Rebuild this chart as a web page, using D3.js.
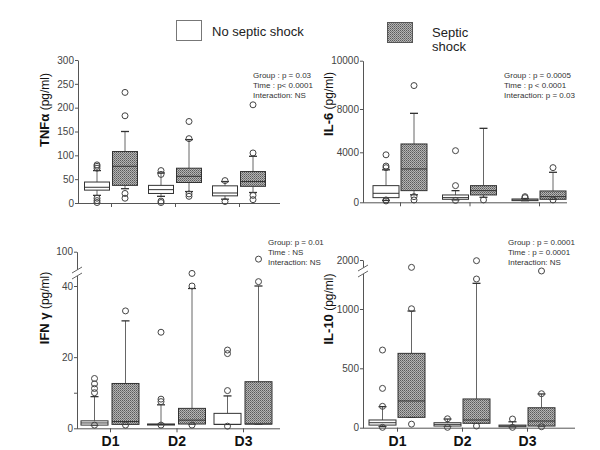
<!DOCTYPE html>
<html><head><meta charset="utf-8">
<script src="https://cdn.jsdelivr.net/npm/d3@7"></script>
<style>body{margin:0;background:#fff}svg{display:block;font-family:Arial,"Liberation Sans",sans-serif}</style>
</head><body><svg id="c" width="600" height="450"></svg>
<script>
const days = ["D1","D2","D3"];
const groups = ["No septic shock","Septic shock"];

// TNF alpha
const tnfNo = [
  {lo:16,q1:27,med:33,q3:44,hi:68,out:[80,77,73,10,5,1]},
  {lo:14,q1:20,med:28,q3:37,hi:63,out:[68,60,4,1]},
  {lo:8,q1:15,med:21,q3:36,hi:45,out:[47,3]}];
const tnfShock = [
  {lo:30,q1:37,med:77,q3:108,hi:150,out:[183,232,20,10]},
  {lo:24,q1:43,med:56,q3:73,hi:133,out:[135,171,19,14]},
  {lo:22,q1:35,med:45,q3:66,hi:98,out:[105,206,16,7]}];
// IL-6
const il6No = [
  {lo:150,q1:373,med:720,q3:1333,hi:2600,out:[3800,2900,2770,190,110]},
  {lo:190,q1:240,med:373,q3:587,hi:933,out:[1333,4150,150]},
  {lo:130,q1:133,med:187,q3:267,hi:300,out:[450,370]}];
const il6Shock = [
  {lo:600,q1:933,med:2667,q3:4770,hi:7600,out:[8970,453,187]},
  {lo:400,q1:587,med:933,q3:1333,hi:6215,out:[190]},
  {lo:240,q1:240,med:453,q3:907,hi:2400,out:[2773,190]}];
// IFN gamma
const ifnNo = [
  {lo:0.9,q1:0.9,med:1.5,q3:2.1,hi:8.9,out:[10,11.2,12.5,14,0.9]},
  {lo:1.1,q1:1.1,med:1.1,q3:1.2,hi:6.6,out:[7.5,8.2,27,0.9]},
  {lo:1.1,q1:1.1,med:1.1,q3:4.2,hi:9.1,out:[10.6,21,22,0.6]}];
const ifnShock = [
  {lo:1.1,q1:1.1,med:1.9,q3:12.6,hi:30.2,out:[33,0.9]},
  {lo:1.2,q1:1.2,med:2.3,q3:5.6,hi:39.3,out:[40,62,0.9]},
  {lo:1.2,q1:1.2,med:1.2,q3:13.1,hi:40,out:[47.6,87]}];
// IL-10
const il10No = [
  {lo:10,q1:22,med:42,q3:65,hi:177,out:[180,331,654,3]},
  {lo:14,q1:14,med:28,q3:42,hi:73,out:[75,3]},
  {lo:8,q1:8,med:15,q3:22,hi:50,out:[73,3]}];
const il10Shock = [
  {lo:87,q1:87,med:225,q3:626,hi:983,out:[1005,1850,30]},
  {lo:37,q1:37,med:65,q3:242,hi:1524,out:[1612,1986,14]},
  {lo:14,q1:14,med:56,q3:168,hi:284,out:[286,1776,8]}];

const tnfTicks = [0,50,100,150,200,250,300];
const il6Ticks = [0,4000,8000,10000];
const ifnTicks = [0,10,20,40,100];
const ifnTickLabels = ["0","","20","40","100"];
const il10Ticks = [0,500,1000,2000];

const tnfStats = ["Group : p = 0.03","Time : p< 0.0001","Interaction: NS"];
const il6Stats = ["Group : p = 0.0005","Time : p < 0.0001","Interaction:  p = 0.03"];
const ifnStats = ["Group:  p = 0.01","Time : NS","Interaction: NS"];
const il10Stats = ["Group : p = 0.0001","Time : p = 0.0001","Interaction: NS"];

const svg = d3.select("#c");
const defs = svg.append("defs");
const pat = defs.append("pattern").attr("id","dots").attr("patternUnits","userSpaceOnUse")
  .attr("width",2).attr("height",2);
pat.append("rect").attr("width",2).attr("height",2).attr("fill","#b4b4b4");
pat.append("rect").attr("width",1).attr("height",1).attr("fill","#5a5a5a");
pat.append("rect").attr("x",1).attr("y",1).attr("width",1).attr("height",1).attr("fill","#7a7a7a");

// legend
svg.append("rect").attr("x",176.5).attr("y",20.5).attr("width",25).attr("height",20)
  .attr("fill","#fff").attr("stroke","#777");
svg.append("text").attr("x",212).attr("y",36).attr("font-size",13).attr("fill","#222").text(groups[0]);
svg.append("rect").attr("x",387.5).attr("y",22.5).attr("width",25).attr("height",20)
  .attr("fill","url(#dots)").attr("stroke","#555");
svg.append("text").attr("x",432).attr("y",37).attr("font-size",13).attr("fill","#222").text("Septic");
svg.append("text").attr("x",432).attr("y",51).attr("font-size",13).attr("fill","#222").text("shock");

const panels = [
  {no:tnfNo, sh:tnfShock, ticks:tnfTicks, labels:null, dom:[0,300], rng:[203,60],
   x0:78, x1:280, c:[111,239], bw:25, off:14, name:"TNF\u03b1", lx:43, ly:110, stats:tnfStats, sx:253, sy:78, xlab:false},
  {no:il6No, sh:il6Shock, ticks:il6Ticks, labels:null, dom:[0,4000,8000,10000], rng:[202.3,152.3,109,60.7],
   x0:363, x1:567, c:[400,539], bw:26, off:14, name:"IL-6", lx:327, ly:104, stats:il6Stats, sx:504, sy:78, xlab:false},
  {no:ifnNo, sh:ifnShock, ticks:ifnTicks, labels:ifnTickLabels, dom:[0,40,100], rng:[428.3,286,251.7],
   x0:77, x1:280, c:[110,243], bw:27, off:15.5, name:"IFN \u03b3", lx:43, ly:308, stats:ifnStats, sx:268, sy:245, xlab:true, brk:273},
  {no:il10No, sh:il10Shock, ticks:il10Ticks, labels:null, dom:[0,500,1000,2000], rng:[427.7,368.3,309,260],
   x0:363, x1:575, c:[397,527], bw:27, off:14.5, name:"IL-10", lx:327, ly:309, stats:il10Stats, sx:508, sy:245, xlab:true, brk:271}
];

panels.forEach(p => {
  const g = svg.append("g");
  const y = d3.scaleLinear().domain(p.dom).range(p.rng);
  const x = d3.scalePoint().domain(days).range(p.c);
  const y0 = y(0);
  // y axis
  const ya = d3.axisLeft(y).tickValues(p.ticks).tickSize(3).tickPadding(1).tickSizeOuter(0);
  if (p.labels) ya.tickFormat((d,i)=>p.labels[i]); else ya.tickFormat(d3.format("d"));
  const yg = g.append("g").attr("transform",`translate(${p.x0},0)`).call(ya);
  yg.select(".domain").attr("stroke","#555");
  yg.selectAll(".tick line").attr("stroke","#555");
  yg.selectAll(".tick text").attr("fill","#444").attr("font-size",10).attr("font-family","Arial, 'Liberation Sans', sans-serif");
  // x axis
  g.append("line").attr("x1",p.x0).attr("x2",p.x1).attr("y1",y0+0.5).attr("y2",y0+0.5).attr("stroke","#555");
  const xa = d3.axisBottom(x).tickSize(4).tickPadding(2).tickSizeOuter(0).tickFormat(p.xlab ? (d=>d) : (()=>""));
  const xg = g.append("g").attr("transform",`translate(0,${y0})`).call(xa);
  xg.select(".domain").remove();
  xg.selectAll(".tick line").attr("stroke","#555");
  xg.selectAll(".tick text").attr("fill","#111").attr("font-size",14).attr("font-weight","bold")
    .attr("dy","0.85em").attr("font-family","Arial, 'Liberation Sans', sans-serif");
  // axis break
  if (p.brk) {
    g.append("rect").attr("x",p.x0-3).attr("y",p.brk-3).attr("width",6).attr("height",6).attr("fill","#fff");
    [-3,3].forEach(d => g.append("line").attr("x1",p.x0-5).attr("x2",p.x0+5)
      .attr("y1",p.brk+d+3).attr("y2",p.brk+d-3).attr("stroke","#666"));
  }
  // boxes
  [[p.no,-p.off,"#fff"],[p.sh,p.off,"url(#dots)"]].forEach(([arr,dx,fill]) => {
    arr.forEach((s,i) => {
      const cx = x(days[i]) + dx;
      const L = cx - p.bw/2, R = cx + p.bw/2;
      g.append("line").attr("x1",cx).attr("x2",cx).attr("y1",y(s.hi)).attr("y2",y(s.q3)).attr("stroke","#666");
      g.append("line").attr("x1",cx).attr("x2",cx).attr("y1",y(s.q1)).attr("y2",y(s.lo)).attr("stroke","#666");
      [s.hi,s.lo].forEach(v => g.append("line").attr("x1",cx-4).attr("x2",cx+4)
        .attr("y1",y(v)).attr("y2",y(v)).attr("stroke","#333").attr("stroke-width",1.3));
      g.append("rect").attr("x",L).attr("y",y(s.q3)).attr("width",p.bw)
        .attr("height",Math.max(1,y(s.q1)-y(s.q3))).attr("fill",fill).attr("stroke","#333");
      g.append("line").attr("x1",L).attr("x2",R).attr("y1",y(s.med)).attr("y2",y(s.med))
        .attr("stroke","#333").attr("stroke-width",1);
      s.out.forEach(v => g.append("circle").attr("cx",cx).attr("cy",y(v)).attr("r",3)
        .attr("fill","none").attr("stroke","#444").attr("stroke-width",1));
    });
  });
  // y label
  const t = g.append("text").attr("transform",`translate(${p.lx},${p.ly}) rotate(-90)`)
    .attr("text-anchor","middle").attr("dy","0.35em").attr("fill","#111");
  t.append("tspan").attr("font-size",13).attr("font-weight","bold").text(p.name);
  t.append("tspan").attr("font-size",12).text(" (pg/ml)");
  // stats
  p.stats.forEach((s,i) => g.append("text").attr("x",p.sx).attr("y",p.sy+i*10)
    .attr("font-size",8).attr("fill","#333").text(s));
});
</script></body></html>
